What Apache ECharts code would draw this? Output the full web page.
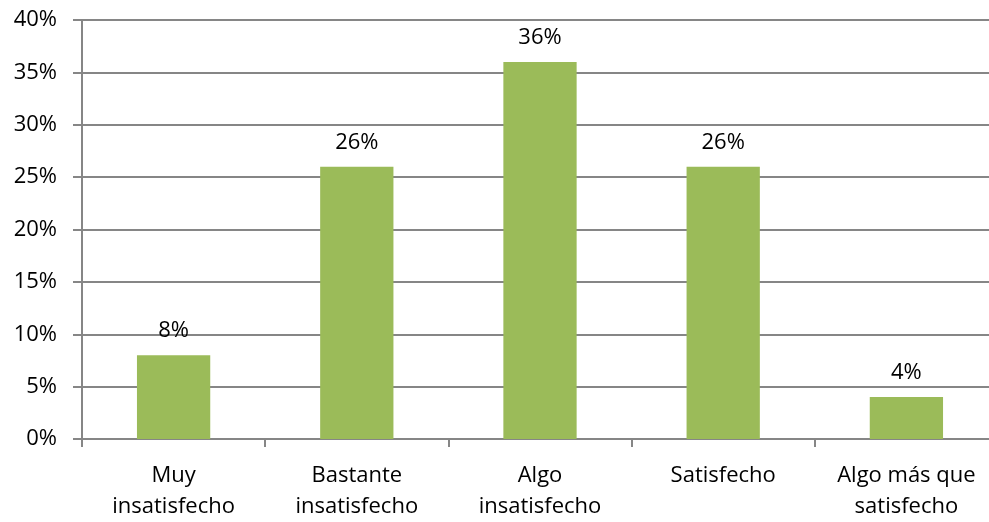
<!DOCTYPE html>
<html>
<head>
<meta charset="utf-8">
<script src="https://cdn.jsdelivr.net/npm/echarts@6/dist/echarts.min.js"></script>
<style>
  html, body { margin: 0; padding: 0; background: #fff; overflow: hidden; }
  /* plot area runs past the right edge of the window, as in the reference */
  #chart { width: 998px; height: 522px; }
</style>
</head>
<body>
<div id="chart"></div>
<script>
// data
const categories = ['Muy\ninsatisfecho', 'Bastante\ninsatisfecho', 'Algo\ninsatisfecho', 'Satisfecho', 'Algo más que\nsatisfecho'];
const values = [8, 26, 36, 26, 4];
const yTicks = [0, 5, 10, 15, 20, 25, 30, 35, 40];

const font = '"Open Sans", "DejaVu Sans", sans-serif';
const gridColor = '#868686';

const chart = echarts.init(document.getElementById('chart'));
chart.setOption({
	animation: false,
	grid: { left: 82, top: 20, right: 0, height: 420 },
	xAxis: {
		type: 'category',
		data: categories,
		axisLine: { lineStyle: { color: gridColor, width: 2 } },
		axisTick: { show: true, length: 8, lineStyle: { color: gridColor, width: 2 } },
		axisLabel: { color: '#000', fontFamily: font, fontSize: 22, lineHeight: 31, margin: 21 },
	},
	yAxis: {
		type: 'value',
		min: yTicks[0],
		max: yTicks[yTicks.length - 1],
		interval: 5,
		axisLine: { show: true, lineStyle: { color: gridColor, width: 2 } },
		axisTick: { show: true, length: 9, lineStyle: { color: gridColor, width: 2 } },
		splitLine: { lineStyle: { color: gridColor, width: 2 } },
		axisLabel: { color: '#000', fontFamily: font, fontSize: 22, margin: 25, formatter: '{value}%' },
	},
	series: [
		{
			type: 'bar',
			data: values,
			barWidth: '40%',
			itemStyle: { color: '#9BBB59' },
			label: {
				show: true,
				position: 'top',
				distance: 13,
				color: '#000',
				fontFamily: font,
				fontSize: 22,
				formatter: '{c}%',
			},
		},
	],
});
</script>
</body>
</html>
